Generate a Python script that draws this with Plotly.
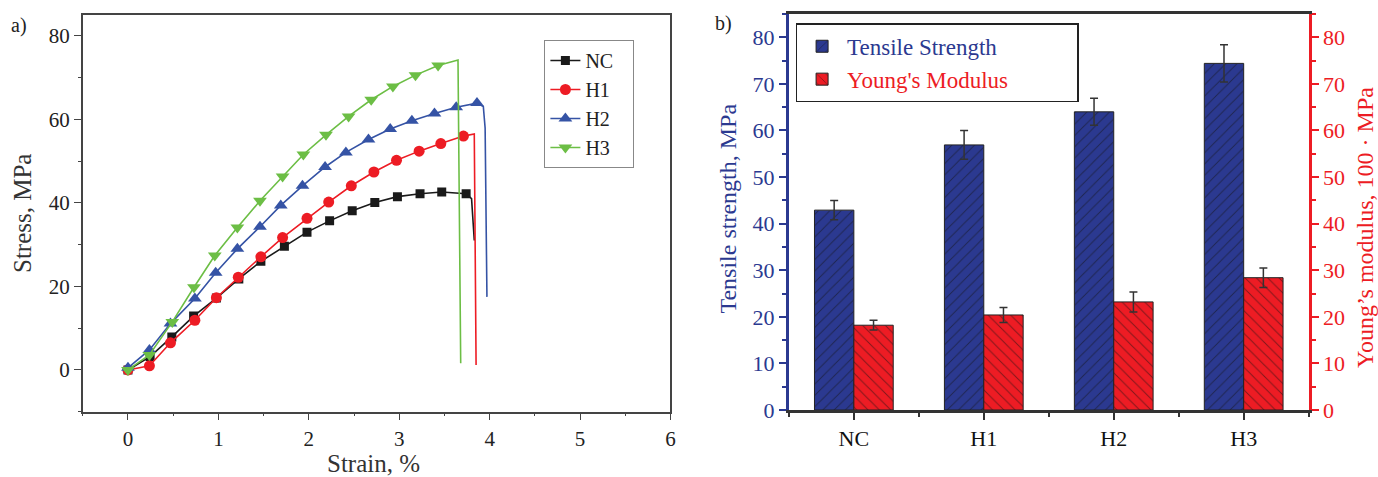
import plotly.graph_objects as go

# ---------------- data: panel a) stress-strain curves ----------------
NC_strain = [0, 0.245, 0.485, 0.726, 0.978, 1.226, 1.47, 1.73, 1.98, 2.23, 2.48, 2.73, 2.98, 3.23, 3.47, 3.74]
NC_stress = [0, 3.2, 7.9, 12.9, 17.2, 21.8, 26.0, 29.6, 33.0, 35.7, 38.1, 40.1, 41.5, 42.2, 42.6, 42.2]
NC_tail_strain = [3.80, 3.83]
NC_tail_stress = [41.0, 31.0]

H1_strain = [0, 0.237, 0.47, 0.74, 0.978, 1.22, 1.47, 1.71, 1.98, 2.22, 2.47, 2.72, 2.97, 3.22, 3.46, 3.71]
H1_stress = [0, 1.0, 6.5, 11.9, 17.3, 22.2, 27.1, 31.7, 36.3, 40.2, 44.1, 47.4, 50.2, 52.4, 54.2, 56.0]
H1_tail_strain = [3.83, 3.85]
H1_tail_stress = [56.5, 1.2]

H2_strain = [0, 0.237, 0.47, 0.74, 0.97, 1.21, 1.46, 1.69, 1.93, 2.18, 2.41, 2.66, 2.90, 3.14, 3.39, 3.63, 3.86]
H2_stress = [0.5, 4.8, 11.1, 17.1, 23.3, 29.0, 34.3, 39.4, 44.1, 48.6, 52.1, 55.2, 57.7, 59.7, 61.4, 62.9, 63.9]
H2_tail_strain = [3.93, 3.95, 3.97]
H2_tail_stress = [63.1, 57.9, 17.5]

H3_strain = [0, 0.237, 0.49, 0.73, 0.96, 1.21, 1.46, 1.71, 1.94, 2.19, 2.44, 2.69, 2.93, 3.18, 3.43]
H3_stress = [0, 3.6, 11.5, 19.8, 27.4, 34.1, 40.5, 46.3, 51.6, 56.3, 60.7, 64.7, 67.9, 70.6, 72.9]
H3_tail_strain = [3.65, 3.68]
H3_tail_stress = [74.2, 1.6]

# ---------------- data: panel b) bars ----------------
categories = ["NC", "H1", "H2", "H3"]
tensile_strength = [42.9, 56.9, 64.0, 74.4]
tensile_err = [2.05, 3.1, 2.9, 4.0]
youngs_modulus = [18.2, 20.4, 23.2, 28.4]
youngs_err = [1.05, 1.6, 2.15, 2.1]

FONT = "Liberation Serif"
W, H = 1378, 477
WE, HE = 1372.0, 464.0   # effective rendered size used for paper-fraction placement

def px(x):
    return x / WE

def py(y):
    return 1 - y / HE

fig = go.Figure()

series = [
    ("NC", NC_strain, NC_stress, NC_tail_strain, NC_tail_stress, "#1a1a1a", "square", 9),
    ("H1", H1_strain, H1_stress, H1_tail_strain, H1_tail_stress, "#ED1C24", "circle", 11),
    ("H2", H2_strain, H2_stress, H2_tail_strain, H2_tail_stress, "#3553A5", "triangle-up", 12),
    ("H3", H3_strain, H3_stress, H3_tail_strain, H3_tail_stress, "#6CBE45", "triangle-down", 12),
]

PAD_L = "&nbsp;" * 3
for name, xs, ys, tx, ty, col, sym, ms in series:
    fig.add_trace(go.Scatter(x=xs + tx, y=ys + ty, mode="lines",
                             line=dict(color=col, width=1.6),
                             showlegend=False, xaxis="x", yaxis="y"))
    fig.add_trace(go.Scatter(x=xs, y=ys, mode="markers",
                             marker=dict(color=col, symbol=sym, size=ms, line=dict(width=0)),
                             showlegend=False, xaxis="x", yaxis="y"))
    fig.add_trace(go.Scatter(x=[None], y=[None], mode="lines+markers", name=name + PAD_L,
                             line=dict(color=col, width=1.6),
                             marker=dict(color=col, symbol=sym, size=ms),
                             legend="legend", legendgroup=name, xaxis="x", yaxis="y"))

BLUE = "#2B3990"
RED = "#ED1C24"
xpos = list(range(len(categories)))
bw = 0.303
PAD_R = "&nbsp;" * 11

fig.add_trace(go.Bar(x=xpos, y=tensile_strength, width=bw, offset=-bw,
                     name="<span style='color:%s'>Tensile Strength</span>" % BLUE,
                     marker=dict(color=BLUE, line=dict(color="#222", width=1),
                                 pattern=dict(shape="/", fgcolor="#111", bgcolor=BLUE, size=8, solidity=0.12)),
                     error_y=dict(type="data", array=tensile_err, color="#333", thickness=1.5, width=4),
                     xaxis="x2", yaxis="y2", legend="legend2", legendgroup="ts"))
fig.add_trace(go.Bar(x=xpos, y=youngs_modulus, width=bw, offset=0,
                     name="<span style='color:%s'>Young's Modulus</span>%s" % (RED, PAD_R),
                     marker=dict(color=RED, line=dict(color="#222", width=1),
                                 pattern=dict(shape="\\", fgcolor="#111", bgcolor=RED, size=8, solidity=0.12)),
                     error_y=dict(type="data", array=youngs_err, color="#333", thickness=1.5, width=4),
                     xaxis="x2", yaxis="y3", legend="legend2", legendgroup="ym"))

tickfont = dict(family=FONT, size=21, color="#222")

fig.update_layout(
    width=W, height=H,
    margin=dict(l=0, r=0, t=0, b=0),
    paper_bgcolor="white", plot_bgcolor="white",
    font=dict(family=FONT),
    xaxis=dict(domain=[px(82.7), px(670)], range=[-0.5, 6], anchor="y",
               showline=True, linecolor="#444", linewidth=1.5, mirror=True,
               ticks="outside", ticklen=7, tickwidth=1.3, tickcolor="#444",
               dtick=1, tick0=0, showgrid=False, zeroline=False, tickfont=tickfont,
               minor=dict(ticks="outside", ticklen=3, tickwidth=1.2, tickcolor="#444", dtick=0.5, tick0=0, showgrid=False)),
    yaxis=dict(domain=[py(411.7), py(15)], range=[-10, 85], anchor="x",
               showline=True, linecolor="#444", linewidth=1.5, mirror=True,
               ticks="outside", ticklen=7, tickwidth=1.3, tickcolor="#444",
               dtick=20, tick0=0, showgrid=False, zeroline=False, tickfont=tickfont,
               minor=dict(ticks="outside", ticklen=3, tickwidth=1.2, tickcolor="#444", dtick=10, tick0=0, showgrid=False)),
    xaxis2=dict(domain=[px(788.3), px(1307.7)], range=[-0.5, 3.5], anchor="y2",
                showline=True, linecolor="#333", linewidth=3, mirror=True,
                ticks="outside", ticklen=7, tickwidth=2, tickcolor="#333",
                tickvals=xpos, ticktext=categories, showgrid=False, zeroline=False,
                tickfont=dict(family=FONT, size=22, color="#111"),
                minor=dict(ticks="outside", ticklen=4, tickwidth=2, tickcolor="#333", dtick=1, tick0=0.5, showgrid=False)),
    yaxis2=dict(domain=[py(410), py(14)], range=[0, 85], anchor="x2",
                showline=True, linecolor=BLUE, linewidth=3,
                ticks="outside", ticklen=7, tickwidth=2, tickcolor=BLUE,
                dtick=10, tick0=0, showgrid=False, zeroline=False,
                tickfont=dict(family=FONT, size=22, color=BLUE),
                minor=dict(ticks="outside", ticklen=4, tickwidth=2, tickcolor=BLUE, dtick=5, tick0=0, showgrid=False)),
    yaxis3=dict(domain=[py(410), py(14)], range=[0, 85], anchor="x2", overlaying="y2", side="right",
                showline=True, linecolor=RED, linewidth=3,
                ticks="outside", ticklen=7, tickwidth=2, tickcolor=RED,
                dtick=10, tick0=0, showgrid=False, zeroline=False,
                tickfont=dict(family=FONT, size=22, color=RED),
                minor=dict(ticks="outside", ticklen=4, tickwidth=2, tickcolor=RED, dtick=5, tick0=0, showgrid=False)),
    legend=dict(x=px(544), y=py(40), xanchor="left", yanchor="top",
                bgcolor="white", bordercolor="#888", borderwidth=1,
                font=dict(family=FONT, size=20, color="#222"),
                itemsizing="trace", tracegroupgap=0, traceorder="normal"),
    legend2=dict(x=px(795), y=py(23.3), xanchor="left", yanchor="top",
                 bgcolor="white", bordercolor="#222", borderwidth=1.5,
                 font=dict(family=FONT, size=23), itemwidth=40,
                 tracegroupgap=8, traceorder="normal"),
    bargap=0.39,
    showlegend=True,
)

ann = [
    dict(text="a)", x=px(19), y=py(25), font=dict(size=20, color="#222")),
    dict(text="b)", x=px(723), y=py(24), font=dict(size=20, color="#222")),
    dict(text="Stress, MPa", x=px(22), y=py(214), textangle=-90, font=dict(size=25, color="#333")),
    dict(text="Strain, %", x=px(373), y=py(463), font=dict(size=25, color="#333")),
    dict(text="Tensile strength, MPa", x=px(727), y=py(209), textangle=-90, font=dict(size=24, color=BLUE)),
    dict(text="Young’s modulus, 100 · MPa", x=px(1364), y=py(227), textangle=-90, font=dict(size=24, color=RED)),
]
for a in ann:
    a.update(xref="paper", yref="paper", showarrow=False, xanchor="center", yanchor="middle")
    a["font"]["family"] = FONT
fig.update_layout(annotations=ann)

fig.write_html("out.html")
